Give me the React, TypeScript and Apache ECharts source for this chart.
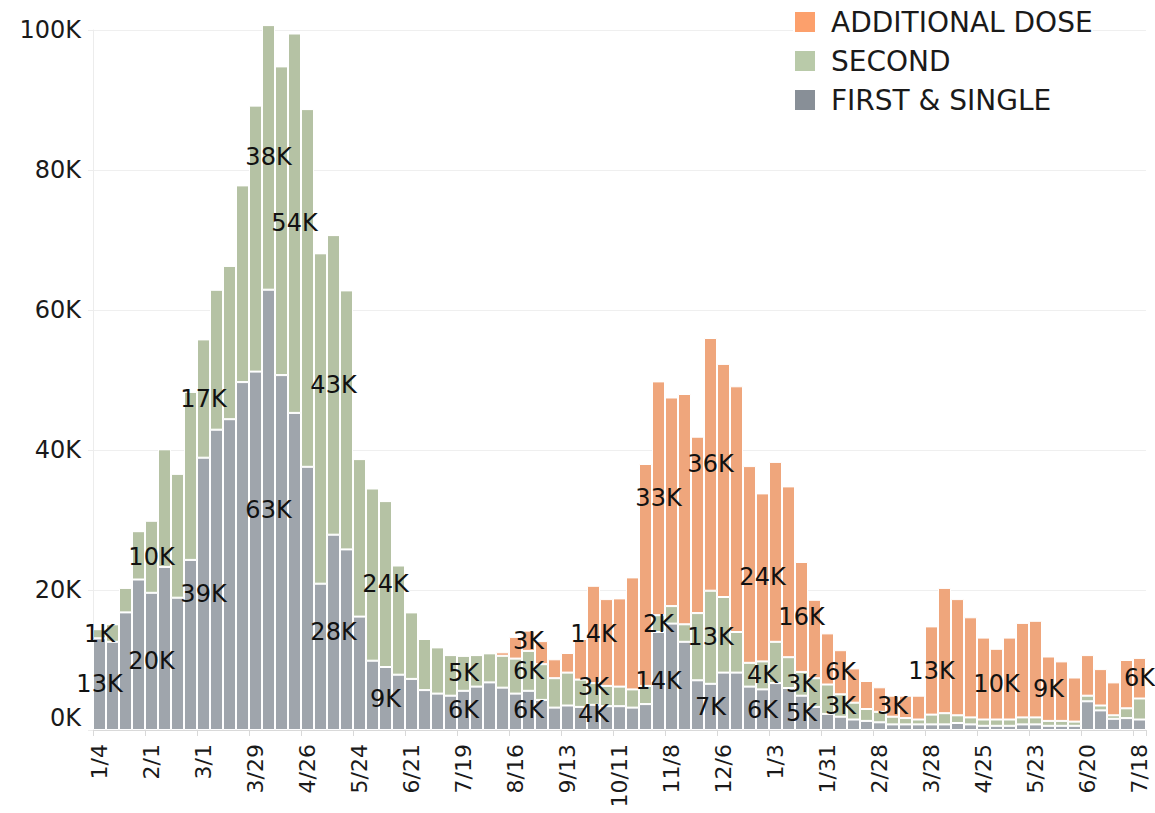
import React, { useEffect, useRef } from "react";
import * as echarts from "echarts";

// Week starting dates (Mon), 2021-01-04 .. 2022-07-18
const weeks = [
  "1/4", "1/11", "1/18", "1/25", "2/1", "2/8", "2/15", "2/22", "3/1", "3/8",
  "3/15", "3/22", "3/29", "4/5", "4/12", "4/19", "4/26", "5/3", "5/10", "5/17",
  "5/24", "5/31", "6/7", "6/14", "6/21", "6/28", "7/5", "7/12", "7/19", "7/26",
  "8/2", "8/9", "8/16", "8/23", "8/30", "9/6", "9/13", "9/20", "9/27", "10/4",
  "10/11", "10/18", "10/25", "11/1", "11/8", "11/15", "11/22", "11/29", "12/6", "12/13",
  "12/20", "12/27", "1/3", "1/10", "1/17", "1/24", "1/31", "2/7", "2/14", "2/21",
  "2/28", "3/7", "3/14", "3/21", "3/28", "4/4", "4/11", "4/18", "4/25", "5/2",
  "5/9", "5/16", "5/23", "5/30", "6/6", "6/13", "6/20", "6/27", "7/4", "7/11",
  "7/18",
];

// Values in thousands of doses
const firstSingle = [
  13.1, 12.6, 16.8, 21.5, 19.6, 23.3, 18.9, 24.3, 38.9, 42.9,
  44.4, 49.7, 51.2, 62.9, 50.7, 45.3, 37.6, 20.9, 27.9, 25.8,
  16.2, 9.9, 9.0, 7.9, 7.3, 5.7, 5.2, 4.9, 5.6, 6.2,
  6.8, 6.05, 5.2, 5.6, 4.3, 3.2, 3.5, 3.3, 3.6, 3.4,
  3.4, 3.2, 3.7, 14.0, 15.2, 12.6, 7.1, 6.6, 8.2, 8.2,
  6.2, 5.8, 6.7, 6.0, 4.9, 3.3, 2.3, 1.9, 1.5, 1.3,
  1.1, 0.8, 0.8, 0.8, 0.8, 0.8, 1.0, 0.8, 0.6, 0.6,
  0.6, 0.8, 0.8, 0.6, 0.6, 0.6, 4.1, 2.8, 1.6, 1.7,
  1.5,
];
const second = [
  1.3, 2.5, 3.5, 6.9, 10.3, 16.8, 17.7, 24.0, 16.9, 20.0,
  21.9, 28.1, 38.0, 37.8, 44.1, 54.2, 51.1, 47.2, 42.8, 37.0,
  22.5, 24.6, 23.7, 15.6, 9.5, 7.3, 6.6, 5.8, 5.0, 4.5,
  4.15, 4.55, 5.0, 5.7, 5.1, 4.2, 4.7, 3.9, 3.1, 2.9,
  2.8, 2.6, 2.6, 2.4, 2.5, 2.5, 9.6, 13.3, 10.8, 5.8,
  3.4, 4.0, 5.9, 4.4, 3.4, 4.1, 4.2, 3.2, 2.4, 1.7,
  1.5, 1.1, 0.9, 0.7, 1.4, 1.6, 1.1, 1.0, 0.9, 0.9,
  0.9, 1.0, 1.0, 0.7, 0.7, 0.6, 0.8, 0.7, 0.5, 1.4,
  3.0,
];
const additional = [
  0, 0, 0, 0, 0, 0, 0, 0, 0, 0,
  0, 0, 0, 0, 0, 0, 0, 0, 0, 0,
  0, 0, 0, 0, 0, 0, 0, 0, 0, 0,
  0, 0.5, 3.1, 2.9, 3.3, 2.7, 2.8, 5.8, 13.9, 12.4,
  12.6, 16.0, 31.7, 33.4, 29.8, 32.9, 25.2, 36.1, 33.3, 35.1,
  28.1, 24.0, 25.7, 24.4, 15.7, 11.2, 7.3, 6.3, 4.9, 4.0,
  3.5, 3.0, 3.2, 3.4, 12.6, 17.9, 16.6, 14.3, 11.7, 10.1,
  11.7, 13.5, 13.8, 9.2, 8.5, 6.3, 5.8, 5.2, 4.7, 6.9,
  5.8,
];

// Weeks whose segment carries a value label
const labelFirst = [0, 4, 8, 13, 18, 22, 28, 33, 38, 43, 47, 51, 54];
const labelSecond = [0, 4, 8, 13, 15, 18, 22, 28, 33, 38, 43, 47, 51, 54, 57];
const labelAdditional = [33, 38, 43, 47, 51, 54, 57, 61, 64, 69, 73, 80];

const seriesNames = ["FIRST & SINGLE", "SECOND", "ADDITIONAL DOSE"];
const barColors = ["#9fa5ac", "#b5c2a4", "#efa67c"];
const legendColors = ["#888f97", "#b9caa9", "#fca06c"];

const FONT = "DejaVu Sans";

// small nudges so that labels of thin stacked segments do not collide
const labelNudge: Record<string, number[]> = {
  "0-38": [0, -3],
  "1-38": [0, -7],
};

function withLabels(k: number, values: number[], labelIdx: number[]) {
  return values.map((v, i) => {
    if (!labelIdx.includes(i)) return v;
    const nudge = labelNudge[k + "-" + i];
    return { value: v, label: nudge ? { show: true, offset: nudge } : { show: true } };
  });
}

export default function App() {
  const ref = useRef<HTMLDivElement>(null);

  useEffect(() => {
    if (!ref.current) return;
    const chart = echarts.init(ref.current, undefined, { renderer: "svg" });
    const valueSets = [firstSingle, second, additional];
    const labelSets = [labelFirst, labelSecond, labelAdditional];

    chart.setOption({
      animation: false,
      backgroundColor: "#ffffff",
      grid: {
        left: 93,
        right: 9,
        top: 30,
        bottom: 83,
        containLabel: false,
        outerBoundsMode: "none",
      },
      legend: {
        orient: "vertical",
        left: 793,
        top: 8,
        padding: 0,
        itemGap: 11,
        itemWidth: 22,
        itemHeight: 22,
        icon: "rect",
        backgroundColor: "#ffffff",
        selectedMode: false,
        textStyle: {
          fontFamily: FONT,
          fontSize: 28,
          color: "#1a1a1a",
          padding: [0, 0, 0, 10],
        },
        data: [2, 1, 0].map((k) => ({
          name: seriesNames[k],
          itemStyle: { color: legendColors[k] },
        })),
      },
      xAxis: {
        type: "category",
        data: weeks,
        boundaryGap: true,
        axisLine: { show: true, lineStyle: { color: "#d9d9d9", width: 1 } },
        axisTick: {
          show: true,
          interval: 3,
          length: 6,
          lineStyle: { color: "#d9d9d9" },
        },
        axisLabel: {
          interval: 3,
          rotate: 90,
          margin: 14,
          fontFamily: FONT,
          fontSize: 22,
          color: "#1a1a1a",
        },
        splitLine: { show: false },
      },
      yAxis: {
        type: "value",
        min: 0,
        max: 100,
        interval: 20,
        axisLine: { show: true, lineStyle: { color: "#ececec" } },
        axisTick: { show: true, length: 5, lineStyle: { color: "#ececec" } },
        axisLabel: {
          formatter: "{value}K",
          margin: 12,
          fontFamily: FONT,
          fontSize: 24,
          color: "#1a1a1a",
          verticalAlignMinLabel: "bottom",
        },
        splitLine: { show: true, lineStyle: { color: "#efefef", width: 1 } },
      },
      series: [0, 1, 2].map((k) => ({
        name: seriesNames[k],
        type: "bar",
        stack: "doses",
        barCategoryGap: "0%",
        clip: false,
        itemStyle: {
          color: barColors[k],
          borderColor: "#ffffff",
          borderWidth: 1,
        },
        label: {
          show: false,
          position: "inside",
          fontFamily: FONT,
          fontSize: 24,
          lineHeight: 20,
          color: "#111111",
          textBorderWidth: 0,
          formatter: (p: any) => Math.round(p.value) + "K",
        },
        emphasis: { disabled: true },
        data: withLabels(k, valueSets[k], labelSets[k]),
      })),
    });

    return () => chart.dispose();
  }, []);

  return (
    <div
      ref={ref}
      style={{
        position: "fixed",
        left: 0,
        top: 0,
        width: 1155,
        height: 813,
        background: "#ffffff",
      }}
    />
  );
}
